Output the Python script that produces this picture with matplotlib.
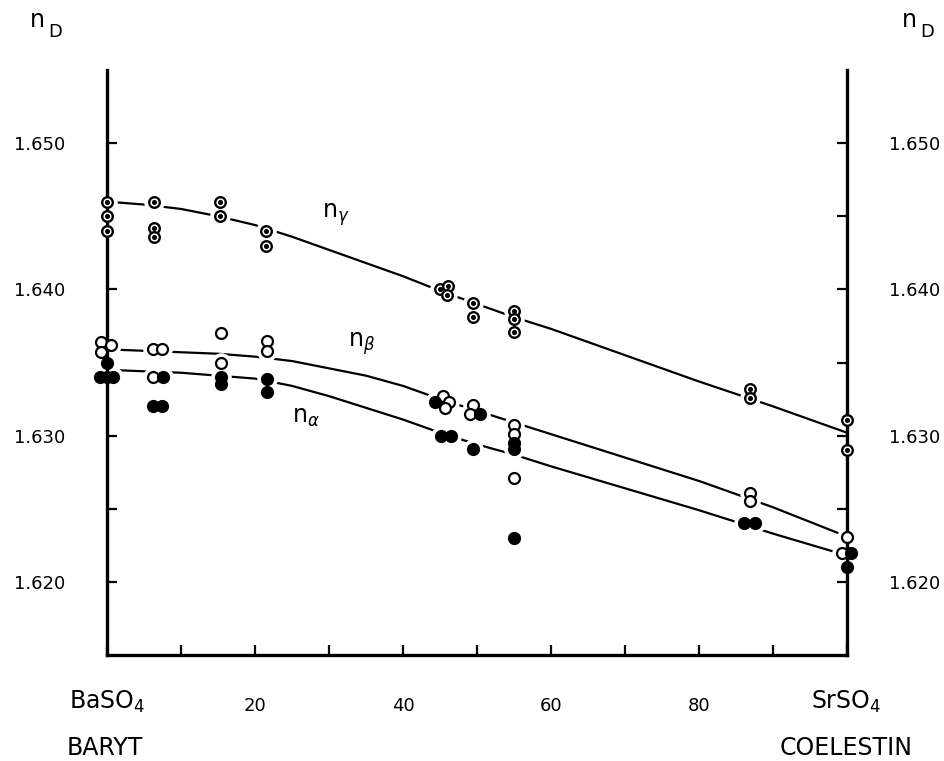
import matplotlib.pyplot as plt

# refractive indices along the BaSO4 - SrSO4 series (x = mol % SrSO4)
gamma_x = [0, 0, 0, 6.4, 6.4, 6.4, 15.3, 15.3, 21.5, 21.5, 45.0, 46.1, 45.9,
           49.5, 49.5, 55.0, 55.0, 55.0, 86.9, 86.9, 100, 100]
gamma_y = [1.6460, 1.6450, 1.6440, 1.6460, 1.6442, 1.6436, 1.6460, 1.6450,
           1.6440, 1.6430, 1.6400, 1.6402, 1.6396, 1.6391, 1.6381, 1.6385,
           1.6380, 1.6371, 1.6332, 1.6326, 1.6311, 1.6290]

beta_x = [-0.8, 0.5, -0.8, 6.2, 7.4, 6.2, 15.4, 15.4, 21.6, 21.6, 45.4, 46.2,
          45.7, 49.5, 49.1, 55.0, 55.0, 55.0, 86.9, 86.9, 100, 99.3]
beta_y = [1.6364, 1.6362, 1.6357, 1.6359, 1.6359, 1.6340, 1.6370, 1.6350,
          1.6365, 1.6358, 1.6327, 1.6323, 1.6319, 1.6321, 1.6315, 1.6307,
          1.6301, 1.6271, 1.6261, 1.6255, 1.6231, 1.6220]

alpha_x = [0, -0.9, 0, 0.8, 7.6, 6.2, 7.4, 15.4, 15.4, 21.6, 21.6, 44.3, 45.1,
           46.5, 49.5, 50.4, 55.0, 55.0, 55.0, 86.1, 87.5, 100.6, 100]
alpha_y = [1.6350, 1.6340, 1.6340, 1.6340, 1.6340, 1.6320, 1.6320, 1.6340,
           1.6335, 1.6339, 1.6330, 1.6323, 1.6300, 1.6300, 1.6291, 1.6315,
           1.6295, 1.6291, 1.6230, 1.6240, 1.6240, 1.6220, 1.6210]

# hand drawn curves, read along their course
curve_x = [0, 5, 10, 15, 20, 25, 30, 35, 40, 45, 50, 55, 60, 70, 80, 90, 100]
curve_gamma = [1.6460, 1.6458, 1.6455, 1.6450, 1.6444, 1.6436, 1.6427, 1.6418,
               1.6409, 1.6399, 1.6390, 1.6381, 1.6373, 1.6355, 1.6337, 1.6320, 1.6302]
curve_beta = [1.6359, 1.6358, 1.6357, 1.6356, 1.6354, 1.6351, 1.6346, 1.6341,
              1.6334, 1.6325, 1.6317, 1.6309, 1.6301, 1.6285, 1.6269, 1.6251, 1.6231]
curve_alpha = [1.6345, 1.6344, 1.6343, 1.6341, 1.6339, 1.6334, 1.6327, 1.6319,
               1.6311, 1.6302, 1.6294, 1.6287, 1.6279, 1.6264, 1.6249, 1.6233, 1.6218]

xticks = [0, 10, 20, 30, 40, 50, 60, 70, 80, 90, 100]
xlabels = ['', '', '20', '', '40', '', '60', '', '80', '', '']
yticks = [1.620, 1.625, 1.630, 1.635, 1.640, 1.645, 1.650]
ylabels = ['1.620', '', '1.630', '', '1.640', '', '1.650']

fig = plt.figure(figsize=(9.44, 7.61), dpi=100)
ax = fig.add_axes([107/944, 106/761, 740/944, 585/761])

for cy in [curve_gamma, curve_beta, curve_alpha]:
    ax.plot(curve_x, cy, color='black', lw=1.6, zorder=2)

# white halo so the curves break around the points
for xs, ys in [(gamma_x, gamma_y), (beta_x, beta_y), (alpha_x, alpha_y)]:
    ax.scatter(xs, ys, s=190, color='white', zorder=2.2, clip_on=False)

ax.scatter(gamma_x, gamma_y, s=58, facecolor='white', edgecolor='black',
           linewidth=1.7, zorder=4, clip_on=False)
ax.scatter(gamma_x, gamma_y, s=7, color='black', zorder=5, clip_on=False)
ax.scatter(beta_x, beta_y, s=62, facecolor='white', edgecolor='black',
           linewidth=1.6, zorder=4, clip_on=False)
ax.scatter(alpha_x, alpha_y, s=72, color='black', zorder=4, clip_on=False)

ax.set_xlim(0, 100)
ax.set_ylim(1.615, 1.655)
ax.spines['top'].set_visible(False)
for s in ['left', 'right', 'bottom']:
    ax.spines[s].set_linewidth(2.4)

ax.set_xticks(xticks)
ax.set_xticklabels(xlabels)
ax.set_yticks(yticks)
ax.set_yticklabels(ylabels)
ax.tick_params(axis='x', direction='in', length=7, width=1.6, pad=30, labelsize=13)
ax.tick_params(axis='y', direction='in', length=7, width=1.6, pad=30, labelsize=13,
               left=True, right=True, labelleft=True, labelright=True)

ax.text(29.1, 1.6451, r'n$_\gamma$', fontsize=17, va='center')
ax.text(32.6, 1.6363, r'n$_\beta$', fontsize=17, va='center')
ax.text(25.0, 1.6313, r'n$_\alpha$', fontsize=17, va='center')

fig.text(107/944, 1 - 702/761, r'BaSO$_4$', fontsize=17, ha='center', va='center')
fig.text(846/944, 1 - 702/761, r'SrSO$_4$', fontsize=17, ha='center', va='center')
fig.text(105/944, 1 - 748/761, 'BARYT', fontsize=17, ha='center', va='center')
fig.text(846/944, 1 - 748/761, 'COELESTIN', fontsize=17, ha='center', va='center')

for xn in [30, 902]:
    fig.text(xn/944, 1 - 20/761, 'n', fontsize=17, ha='left', va='center')
    fig.text((xn + 18)/944, 1 - 32/761, 'D', fontsize=13, ha='left', va='center')

fig.savefig('out.png', dpi=100)
